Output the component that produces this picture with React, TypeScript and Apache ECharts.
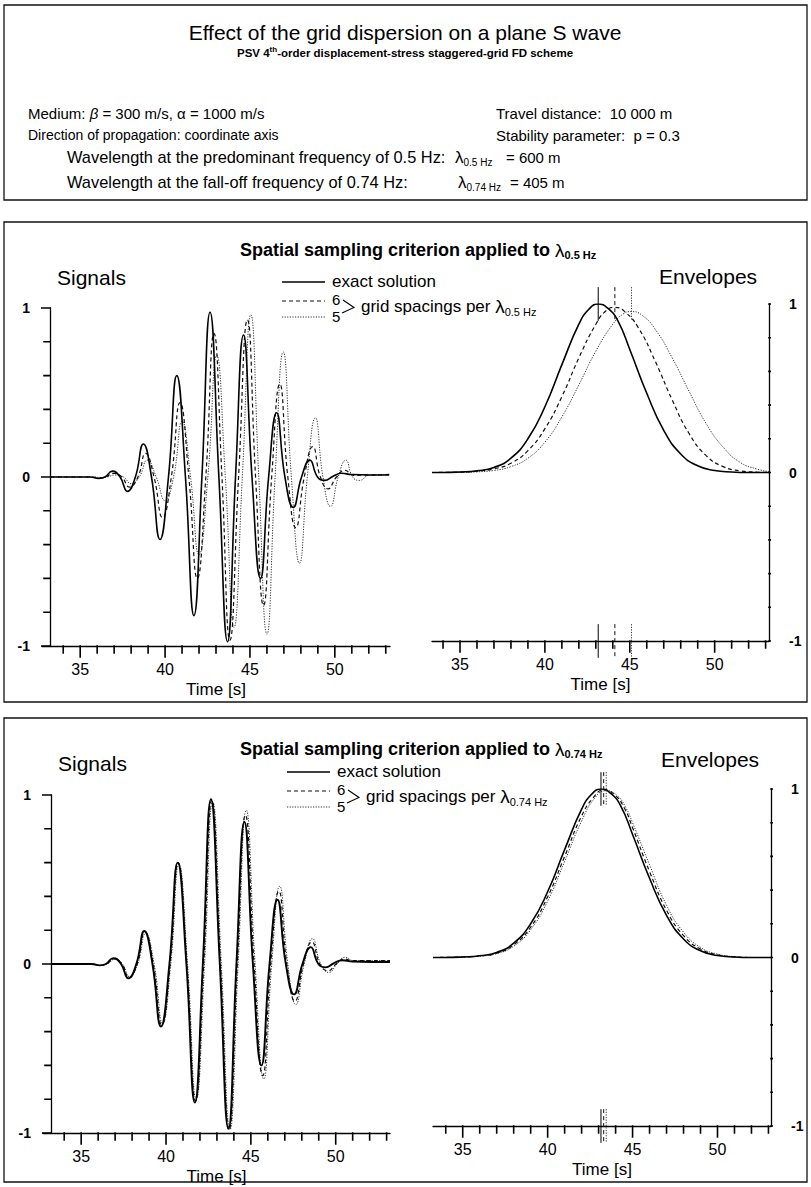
import React, { useEffect, useRef } from "react";
import * as echarts from "echarts";

const FONT = '"Liberation Sans", Arial, Helvetica, sans-serif';

// ---- axes ----
const timeMinorTicks = [34, 35, 36, 37, 38, 39, 40, 41, 42, 43, 44, 45, 46, 47, 48, 49, 50, 51, 52, 53];
const timeMajorTicks = [35, 40, 45, 50];
const ampTicks = [-1, -0.8, -0.6, -0.4, -0.2, 0, 0.2, 0.4, 0.6, 0.8, 1];
const ampLabels = [-1, 0, 1];

// ---- signals [time s, normalised amplitude] ----
const exactSignal = [
  [33.25, 0], [35.6, 0], [36.1, -0.008], [36.45, 0], [36.9, 0.035], [37.35, 0], [37.78, -0.085], [38.25, 0],
  [38.72, 0.195], [39.2, 0], [39.7, -0.37], [40.2, 0], [40.69, 0.6], [41.2, 0], [41.7, -0.82], [42.17, 0],
  [42.65, 0.975], [43.17, 0], [43.68, -0.975], [44.15, 0], [44.62, 0.84], [45.12, 0], [45.62, -0.6], [46.1, 0],
  [46.57, 0.38], [47.06, 0], [47.55, -0.18], [48.04, 0], [48.53, 0.1], [48.98, 0], [49.4, -0.02], [49.9, 0.005],
  [50.4, 0.022], [51.0, 0.015], [53.2, 0.012],
];

// 6 grid spacings per wavelength at 0.5 Hz
const signal6Pred = [
  [33.25, 0], [35.7, 0], [36.2, -0.006], [36.5, 0], [36.95, 0.022], [37.45, 0], [37.9, -0.06], [38.4, 0],
  [38.85, 0.14], [39.35, 0], [39.85, -0.24], [40.37, 0], [40.88, 0.44], [41.4, 0], [41.9, -0.6], [42.4, 0],
  [42.88, 0.85], [43.35, 0], [43.82, -0.965], [44.33, 0], [44.85, 0.93], [45.33, 0], [45.8, -0.76], [46.28, 0],
  [46.76, 0.55], [47.23, 0], [47.7, -0.3], [48.2, 0], [48.7, 0.18], [49.15, 0], [49.6, -0.07], [50.1, 0],
  [50.6, 0.04], [51.1, 0.01], [53.2, 0.015],
];

// 5 grid spacings per wavelength at 0.5 Hz
const signal5Pred = [
  [33.25, 0], [35.8, 0], [36.3, -0.004], [36.6, 0], [37.05, 0.012], [37.55, 0], [38.0, -0.04], [38.48, 0],
  [38.95, 0.1], [39.48, 0], [40.0, -0.14], [40.5, 0], [41.0, 0.33], [41.5, 0], [42.0, -0.46], [42.52, 0],
  [43.04, 0.72], [43.55, 0], [44.06, -0.89], [44.55, 0], [45.05, 0.96], [45.52, 0], [46.0, -0.93], [46.48, 0],
  [46.96, 0.74], [47.44, 0], [47.92, -0.51], [48.38, 0], [48.85, 0.35], [49.3, 0], [49.75, -0.175], [50.2, 0],
  [50.65, 0.1], [51.05, 0], [51.47, -0.02], [52.0, 0.01], [53.2, 0.015],
];

// 6 grid spacings per wavelength at 0.74 Hz
const signal6Fall = [
  [33.25, 0], [35.6, 0], [36.1, -0.008], [36.5, 0], [36.95, 0.03], [37.4, 0], [37.82, -0.08], [38.3, 0],
  [38.75, 0.19], [39.25, 0], [39.75, -0.36], [40.24, 0], [40.72, 0.6], [41.23, 0], [41.74, -0.81], [42.22, 0],
  [42.7, 0.97], [43.21, 0], [43.72, -0.98], [44.2, 0], [44.68, 0.88], [45.19, 0], [45.7, -0.66], [46.17, 0],
  [46.65, 0.43], [47.12, 0], [47.6, -0.22], [48.1, 0], [48.6, 0.13], [49.07, 0], [49.55, -0.04], [50.03, 0],
  [50.5, 0.03], [51.0, 0.02], [53.2, 0.02],
];

// 5 grid spacings per wavelength at 0.74 Hz
const signal5Fall = [
  [33.25, 0], [35.65, 0], [36.15, -0.008], [36.55, 0], [37.0, 0.03], [37.43, 0], [37.85, -0.075], [38.33, 0],
  [38.8, 0.18], [39.3, 0], [39.8, -0.35], [40.28, 0], [40.76, 0.59], [41.27, 0], [41.78, -0.8], [42.27, 0],
  [42.75, 0.96], [43.26, 0], [43.77, -0.98], [44.25, 0], [44.73, 0.91], [45.25, 0], [45.76, -0.68], [46.23, 0],
  [46.7, 0.46], [47.18, 0], [47.65, -0.24], [48.14, 0], [48.63, 0.15], [49.12, 0], [49.6, -0.05], [50.08, 0],
  [50.55, 0.04], [51.05, 0.02], [53.2, 0.02],
];

// ---- envelopes ----
const envExact = [
  [33.35, 0], [34, 0], [35, 0.003], [36, 0.01], [37, 0.03], [38, 0.085], [39, 0.2], [40, 0.39], [41, 0.64],
  [42, 0.88], [42.6, 0.97], [43.14, 1.0], [43.7, 0.975], [44.3, 0.9], [45, 0.73], [46, 0.47], [47, 0.25],
  [48, 0.11], [49, 0.04], [50, 0.012], [51, 0.003], [52, 0], [53.2, 0],
];
const env6Pred = [
  [33.35, 0], [35, 0.002], [36, 0.008], [37, 0.022], [38, 0.055], [39, 0.13], [40, 0.26], [41, 0.45], [42, 0.68],
  [43, 0.88], [43.6, 0.96], [44.12, 0.98], [44.7, 0.955], [45.5, 0.86], [46.5, 0.66], [47.5, 0.43], [48.5, 0.23],
  [49.5, 0.1], [50.5, 0.035], [51.5, 0.01], [52.5, 0.002], [53.2, 0],
];
const env5Pred = [
  [33.35, 0], [35, 0], [36, 0.004], [37, 0.012], [38, 0.035], [39, 0.085], [40, 0.18], [41, 0.33], [42, 0.52],
  [43, 0.72], [44, 0.88], [44.6, 0.94], [45.1, 0.955], [45.7, 0.935], [46.5, 0.85], [47.5, 0.68], [48.5, 0.48],
  [49.5, 0.29], [50.5, 0.15], [51.5, 0.06], [52.5, 0.02], [53.2, 0.005],
];
const envExactFall = [
  [33.25, 0], [34, 0], [35, 0.003], [36, 0.01], [37, 0.03], [38, 0.085], [39, 0.2], [40, 0.39], [41, 0.64],
  [42, 0.88], [42.6, 0.97], [43.14, 1.0], [43.7, 0.975], [44.3, 0.9], [45, 0.73], [46, 0.47], [47, 0.25],
  [48, 0.11], [49, 0.04], [50, 0.012], [51, 0.003], [52, 0], [53.15, 0],
];
const env6Fall = [
  [33.25, 0], [35, 0.003], [36, 0.009], [37, 0.026], [38, 0.075], [39, 0.18], [40, 0.36], [41, 0.6], [42, 0.84],
  [42.7, 0.95], [43.3, 0.995], [43.9, 0.97], [44.5, 0.89], [45, 0.77], [46, 0.51], [47, 0.28], [48, 0.13],
  [49, 0.05], [50, 0.016], [51, 0.004], [52, 0], [53.15, 0],
];
const env5Fall = [
  [33.25, 0], [35, 0.002], [36, 0.008], [37, 0.023], [38, 0.067], [39, 0.165], [40, 0.335], [41, 0.57], [42, 0.81],
  [42.8, 0.95], [43.45, 0.99], [44.05, 0.965], [44.6, 0.89], [45, 0.8], [46, 0.55], [47, 0.31], [48, 0.15],
  [49, 0.06], [50, 0.02], [51, 0.005], [52, 0], [53.15, 0],
];

// ---- styles ----
type LineSty = { type: any; width: number; color: string };
const EXACT: LineSty = { type: "solid", width: 1.6, color: "#000" };
const SIX: LineSty = { type: [4, 3], width: 1.2, color: "#111" };
const FIVE: LineSty = { type: [1.2, 1.4], width: 1, color: "#333" };

// ---- text helpers ----
type Piece = { text: string; size: number; bold?: boolean; italic?: boolean; dy?: number; at?: number };
let measureCtx: CanvasRenderingContext2D | null = null;
const fontOf = (p: Piece) => `${p.italic ? "italic " : ""}${p.bold ? "bold " : ""}${p.size}px ${FONT}`;
function measure(p: Piece): number {
  if (!measureCtx) measureCtx = document.createElement("canvas").getContext("2d");
  if (!measureCtx) return p.text.length * p.size * 0.5;
  measureCtx.font = fontOf(p);
  return measureCtx.measureText(p.text).width;
}
function textRun(x: number, y: number, pieces: Piece[], align: "left" | "center" = "left") {
  const widths = pieces.map(measure);
  const total = widths.reduce((a, b) => a + b, 0);
  let cx = align === "center" ? x - total / 2 : x;
  return pieces.map((p, i) => {
    if (p.at !== undefined) cx = p.at;
    const el = {
      type: "text",
      x: cx,
      y: y + (p.dy || 0),
      silent: true,
      style: {
        text: p.text,
        font: fontOf(p),
        fill: "#000",
        textAlign: "left",
        textVerticalAlign: "middle",
        align: "left",
        verticalAlign: "middle",
      },
    };
    cx += widths[i];
    return el;
  });
}
const box = (x: number, y: number, w: number, h: number) => ({
  type: "rect",
  silent: true,
  shape: { x, y, width: w, height: h },
  style: { fill: "none", stroke: "#111", lineWidth: 1.3 },
});
const seg = (x1: number, x2: number, y: number, s: LineSty) => ({
  type: "line",
  silent: true,
  shape: { x1, y1: y, x2, y2: y },
  style: { stroke: s.color, lineWidth: s.width, lineDash: s.type === "solid" ? null : s.type },
});

// legend block: rows = [exact, six, five] text centres
function legend(x0: number, rows: number[], sub: string) {
  const [r0, r1, r2] = rows;
  const mid = (r1 + r2) / 2;
  const tx = x0 + 50;
  return [
    seg(x0, x0 + 43, r0 + 1, EXACT),
    seg(x0, x0 + 43, r1 + 2, SIX),
    seg(x0, x0 + 43, r2 + 1, FIVE),
    ...textRun(tx, r0, [{ text: "exact solution", size: 17 }]),
    ...textRun(tx, r1, [{ text: "6", size: 15 }]),
    ...textRun(tx, r2, [{ text: "5", size: 15 }]),
    {
      type: "polyline",
      silent: true,
      shape: { points: [[tx + 11, r1 + 1], [tx + 22, mid], [tx + 10, r2 - 3]] },
      style: { stroke: "#000", lineWidth: 1.1, fill: "none" },
    },
    ...textRun(tx + 29, mid - 1, [
      { text: "grid spacings per ", size: 17 },
      { text: "λ", size: 19 },
      { text: sub, size: 11, dy: 5 },
    ]),
  ];
}

function panelTitle(lambdaX: number, y: number, sub: string) {
  const head: Piece = { text: "Spatial sampling criterion applied to ", size: 18, bold: true };
  return textRun(lambdaX - measure(head), y, [
    head,
    { text: "λ", size: 19 },
    { text: sub, size: 11, bold: true, dy: 5 },
  ]);
}

// ---- panels ----
type Panel = { grid: any; xr: [number, number]; yPos: "left" | "right"; yOff: number };
const panels: Panel[] = [
  { grid: { left: 42, top: 308, width: 348, height: 338 }, xr: [32.75, 53.25], yPos: "left", yOff: -8 },
  { grid: { left: 432, top: 304, width: 337, height: 337 }, xr: [33.35, 53.2], yPos: "right", yOff: 0 },
  { grid: { left: 43, top: 795, width: 347, height: 338 }, xr: [32.75, 53.2], yPos: "left", yOff: -8 },
  { grid: { left: 433, top: 789, width: 338, height: 337 }, xr: [33.25, 53.15], yPos: "right", yOff: 0 },
];

const axisColor = "#000";
function axesFor(i: number, p: Panel) {
  const xAxis = {
    type: "value", gridIndex: i, min: p.xr[0], max: p.xr[1], position: "bottom",
    axisLine: { show: true, onZero: false, lineStyle: { color: axisColor, width: 1.3 } },
    axisTick: { show: false },
    axisLabel: { show: true, customValues: timeMajorTicks, fontSize: 16, color: "#000", fontFamily: FONT, margin: 15 },
    splitLine: { show: false },
    name: "Time [s]", nameLocation: "middle", nameGap: 35,
    nameTextStyle: { fontSize: 17, color: "#000", fontFamily: FONT },
  };
  const yAxis = {
    type: "value", gridIndex: i, min: -1, max: 1, position: p.yPos, offset: p.yOff,
    axisLine: { show: true, onZero: false, lineStyle: { color: axisColor, width: 1.3 } },
    axisTick: { show: false },
    axisLabel: { show: true, customValues: ampLabels, fontSize: 14, fontWeight: "bold", color: "#000", fontFamily: FONT, margin: 20 },
    splitLine: { show: false },
  };
  return { x: xAxis, y: yAxis };
}

// Tick marks as short unclipped segments on each panel's own scales.
function tickSeries(i: number, p: Panel) {
  const g = p.grid;
  const pxPerSec = g.width / (p.xr[1] - p.xr[0]);
  const pxPerUnit = g.height / 2;
  const xTicks = (values: number[], len: number) =>
    values.flatMap((t) => [[t, -1], [t, -1 - len / pxPerUnit], [t, "-"]]);
  const left = p.yPos === "left";
  const axisT = left ? p.xr[0] - p.yOff / pxPerSec : p.xr[1] + p.yOff / pxPerSec;
  const yTicks = (values: number[], len: number) =>
    values.flatMap((v) => [[axisT, v], [axisT + (left ? -len : len) / pxPerSec, v], [axisT, "-"]]);
  return [
    [...xTicks(timeMinorTicks, 7), ...xTicks(timeMajorTicks, 11)],
    [...yTicks(ampTicks, 6), ...yTicks(ampLabels, 12)],
  ].map((data) => ({
    type: "line", data, xAxisIndex: i, yAxisIndex: i, showSymbol: false, symbol: "none",
    clip: false, silent: true, connectNulls: false, z: 4,
    lineStyle: { color: "#000", width: 1.6, type: "solid", cap: "square" },
  }));
}

function curve(data: number[][], s: LineSty, panel: number) {
  return {
    type: "line", data, xAxisIndex: panel, yAxisIndex: panel, showSymbol: false, symbol: "none",
    smooth: 0.5, silent: true, animation: false,
    lineStyle: { color: s.color, width: s.width, type: s.type },
  };
}
const peakOf = (d: number[][]) => d.reduce((b, q) => (q[1] > b[1] ? q : b));
const MARK_TOP = [1.1, 0.9];
const MARK_BOTTOM = [-0.9, -1.1];
function peakMarkers(env: number[][], s: LineSty, panel: number) {
  const t = peakOf(env)[0];
  return [MARK_TOP, MARK_BOTTOM].map((m) => ({
    type: "line", data: [[t, m[0]], [t, m[1]]], xAxisIndex: panel, yAxisIndex: panel,
    showSymbol: false, symbol: "none", clip: false, silent: true,
    lineStyle: { color: s.color, width: 1, type: s.type },
  }));
}

function buildGraphic() {
  return [
    box(4, 5, 803, 195),
    box(4, 222, 803, 480),
    box(4, 718, 803, 464),
    ...textRun(405, 32, [{ text: "Effect of the grid dispersion on a plane S wave", size: 21 }], "center"),
    ...textRun(405, 53, [
      { text: "PSV 4", size: 11.5, bold: true },
      { text: "th", size: 8, bold: true, dy: -4 },
      { text: "-order displacement-stress staggered-grid FD scheme", size: 11.5, bold: true },
    ], "center"),
    ...textRun(28, 113, [
      { text: "Medium: ", size: 15 },
      { text: "β", size: 15, italic: true },
      { text: " = 300 m/s, ", size: 15 },
      { text: "α", size: 15 },
      { text: " = 1000 m/s", size: 15 },
    ]),
    ...textRun(28, 135, [{ text: "Direction of propagation: coordinate axis", size: 14 }]),
    ...textRun(496, 113, [{ text: "Travel distance:  10 000 m", size: 15 }]),
    ...textRun(496, 135, [{ text: "Stability parameter:  p = 0.3", size: 15 }]),
    ...textRun(67, 157, [
      { text: "Wavelength at the predominant frequency of 0.5 Hz:", size: 16.4 },
      { text: "λ", size: 17, at: 455 },
      { text: "0.5 Hz", size: 10, dy: 5 },
      { text: "= 600 m", size: 15, at: 506 },
    ]),
    ...textRun(67, 182, [
      { text: "Wavelength at the fall-off frequency of 0.74 Hz:", size: 16.4 },
      { text: "λ", size: 17, at: 458 },
      { text: "0.74 Hz", size: 10, dy: 5 },
      { text: "= 405 m", size: 15, at: 510 },
    ]),

    ...panelTitle(555, 250, "0.5 Hz"),
    ...textRun(57, 277, [{ text: "Signals", size: 21 }]),
    ...textRun(659, 276, [{ text: "Envelopes", size: 21 }]),
    ...legend(282, [281, 299, 316], "0.5 Hz"),

    ...panelTitle(555, 749, "0.74 Hz"),
    ...textRun(58, 763, [{ text: "Signals", size: 21 }]),
    ...textRun(661, 759, [{ text: "Envelopes", size: 21 }]),
    ...legend(287, [771, 789, 806], "0.74 Hz"),
  ];
}

function buildOption() {
  const xAxes: any[] = [];
  const yAxes: any[] = [];
  const ticks: any[] = [];
  panels.forEach((p, i) => {
    const a = axesFor(i, p);
    xAxes.push(a.x);
    yAxes.push(a.y);
    ticks.push(...tickSeries(i, p));
  });

  const series: any[] = [
    ...ticks,
    curve(signal5Pred, FIVE, 0), curve(signal6Pred, SIX, 0), curve(exactSignal, EXACT, 0),
    curve(env5Pred, FIVE, 1), curve(env6Pred, SIX, 1), curve(envExact, EXACT, 1),
    ...peakMarkers(envExact, EXACT, 1), ...peakMarkers(env6Pred, SIX, 1), ...peakMarkers(env5Pred, FIVE, 1),
    curve(signal5Fall, FIVE, 2), curve(signal6Fall, SIX, 2), curve(exactSignal, { ...EXACT, width: 1.9 }, 2),
    curve(env5Fall, FIVE, 3), curve(env6Fall, SIX, 3), curve(envExactFall, EXACT, 3),
    ...peakMarkers(envExactFall, EXACT, 3), ...peakMarkers(env6Fall, SIX, 3), ...peakMarkers(env5Fall, FIVE, 3),
  ];

  return {
    animation: false,
    backgroundColor: "#fff",
    textStyle: { fontFamily: FONT },
    grid: panels.map((p) => ({ ...p.grid, containLabel: false })),
    xAxis: xAxes,
    yAxis: yAxes,
    series,
    graphic: buildGraphic(),
  };
}

export default function App() {
  const ref = useRef<HTMLDivElement>(null);
  useEffect(() => {
    document.body.style.margin = "0";
    if (!ref.current) return;
    const chart = echarts.init(ref.current, undefined, { renderer: "svg", width: 811, height: 1187 });
    chart.setOption(buildOption() as any);
    return () => chart.dispose();
  }, []);
  return (
    <div
      ref={ref}
      style={{ position: "absolute", left: 0, top: 0, width: 811, height: 1187, background: "#fff" }}
    />
  );
}
